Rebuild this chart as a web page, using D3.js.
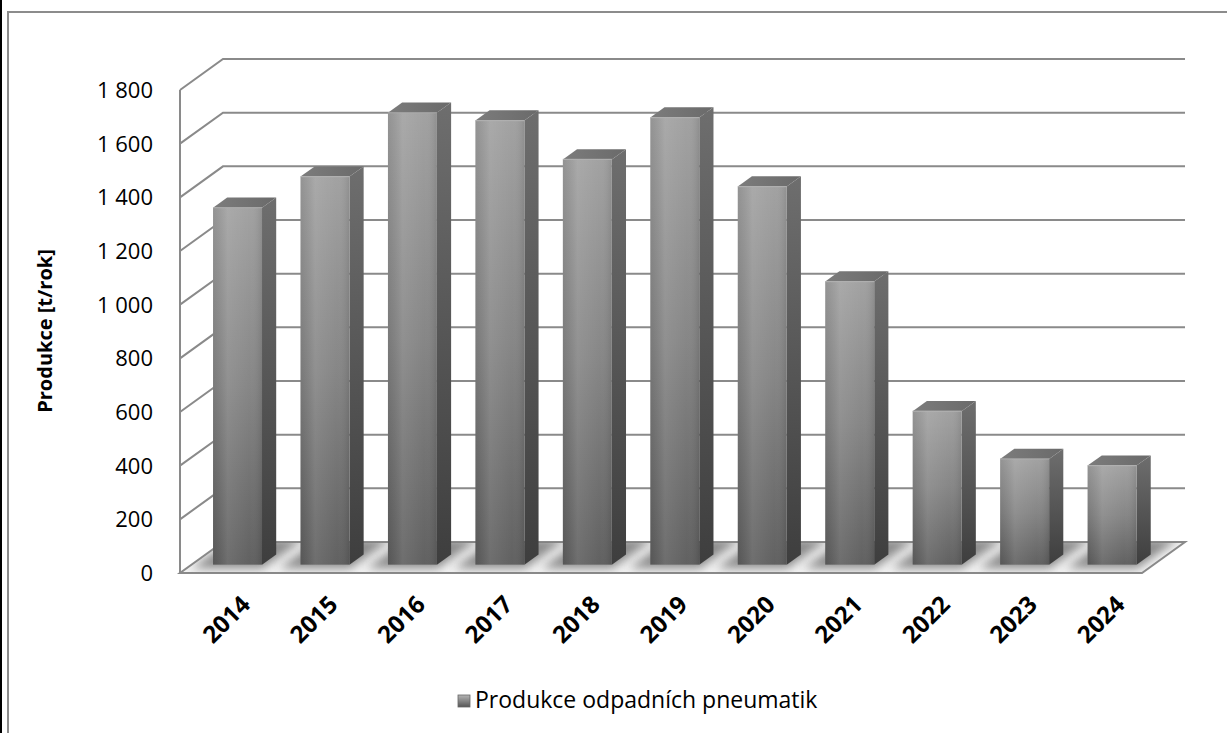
<!DOCTYPE html>
<html>
<head>
<meta charset="utf-8">
<script src="https://cdn.jsdelivr.net/npm/d3@7"></script>
<style>
  html, body { margin: 0; padding: 0; background: #fff; }
  svg { display: block; font-family: "Open Sans", "Noto Sans", sans-serif; }
</style>
</head>
<body>
<svg id="chart" width="1227" height="733"></svg>
<script>
const categories = ["2014", "2015", "2016", "2017", "2018", "2019", "2020", "2021", "2022", "2023", "2024"];
const values = [1330, 1446, 1684, 1655, 1510, 1666, 1409, 1055, 572, 394, 369];
const yTicks = [0, 200, 400, 600, 800, 1000, 1200, 1400, 1600, 1800];
const seriesName = "Produkce odpadních pneumatik";
const yTitle = "Produkce [t/rok]";

const svg = d3.select("#chart");
const W = 1227, H = 733;

// outer frame
svg.append("rect").attr("x", 0).attr("y", 0).attr("width", 2).attr("height", H).attr("fill", "#000");
svg.append("rect").attr("x", 8).attr("y", 12).attr("width", 1400).attr("height", 1000)
  .attr("fill", "none").attr("stroke", "#8c8c8c").attr("stroke-width", 2);

const x = d3.scaleBand().domain(categories).range([180, 1142]).padding(0);
const y = d3.scaleLinear().domain([0, 1800]).range([573, 90]);

const DX = 43, DY = -31;
const P = (px, py, d) => [px + DX * d, py + DY * d];
const D0 = 0.27, D1 = 0.6;

const defs = svg.append("defs");
function lin(id, x1, y1, x2, y2, stops) {
  const g = defs.append("linearGradient").attr("id", id)
    .attr("x1", x1).attr("y1", y1).attr("x2", x2).attr("y2", y2);
  stops.forEach(s => g.append("stop").attr("offset", s[0]).attr("stop-color", s[1]));
}
lin("gFront", 0, 0, 0, 1, [[0, "#a0a0a0"], [0.5, "#848484"], [1, "#5e5e5e"]]);
lin("gFrontH", 0, 0, 1, 0, [[0, "rgba(0,0,0,0.08)"], [0.3, "rgba(255,255,255,0.10)"], [0.75, "rgba(255,255,255,0.02)"], [1, "rgba(0,0,0,0.10)"]]);
lin("gSide", 0, 0, 0, 1, [[0, "#6e6e6e"], [1, "#3e3e3e"]]);
lin("gTop", 0, 0, 1, 0, [[0, "#7c7c7c"], [1, "#6a6a6a"]]);
lin("gLegend", 0, 0, 0, 1, [[0, "#b5b5b5"], [1, "#555"]]);
defs.append("filter").attr("id", "blur").attr("x", "-50%").attr("y", "-50%").attr("width", "200%").attr("height", "200%")
  .append("feGaussianBlur").attr("stdDeviation", 5);

const line = d3.line();
const g = svg.append("g");

// back wall gridlines
yTicks.forEach(t => {
  const a = P(180, y(t), 0), b = P(180, y(t), 1), c = P(1142, y(t), 1);
  if (t !== 0) {
    g.append("path").attr("d", line([a, b, c])).attr("fill", "none")
      .attr("stroke", "#8a8a8a").attr("stroke-width", 2);
  }
});
// front axis line
g.append("line").attr("x1", 180).attr("x2", 180).attr("y1", y(0)).attr("y2", y(1800))
  .attr("stroke", "#8a8a8a").attr("stroke-width", 2);

// floor
const floorPts = [P(180, y(0), 0), P(1142, y(0), 0), P(1142, y(0), 1), P(180, y(0), 1)];
g.append("path").attr("d", line(floorPts) + "Z").attr("fill", "#f2f2f2")
  .attr("stroke", "#8a8a8a").attr("stroke-width", 2);

// shadows
const clip = defs.append("clipPath").attr("id", "floorClip");
clip.append("path").attr("d", line(floorPts) + "Z");
const sh = g.append("g").attr("clip-path", "url(#floorClip)");
const bw = x.step() * 0.56, boff = x.step() * 0.245;
categories.forEach((c, i) => {
  const bx = x(c) + boff;
  const pts = [P(bx - 16, y(0), 0.15), P(bx + bw + 6, y(0), 0.15), P(bx + bw + 6, y(0), 1.1), P(bx - 16, y(0), 1.1)];
  sh.append("path").attr("d", line(pts) + "Z").attr("fill", "#808080").attr("opacity", 0.9).attr("filter", "url(#blur)");
});

// bars
const bars = g.append("g");
categories.forEach((c, i) => {
  const v = values[i];
  const bx = x(c) + boff;
  const y0 = y(0), y1 = y(v);
  const fTL = P(bx, y1, D0), fTR = P(bx + bw, y1, D0), fBR = P(bx + bw, y0, D0), fBL = P(bx, y0, D0);
  const bTL = P(bx, y1, D1), bTR = P(bx + bw, y1, D1), bBR = P(bx + bw, y0, D1);
  bars.append("path").attr("d", line([fTR, bTR, bBR, fBR]) + "Z").attr("fill", "url(#gSide)");
  bars.append("path").attr("d", line([fTL, fTR, bTR, bTL]) + "Z").attr("fill", "url(#gTop)");
  bars.append("rect").attr("x", fTL[0]).attr("y", fTL[1]).attr("width", bw).attr("height", fBL[1] - fTL[1])
    .attr("fill", "url(#gFront)");
  bars.append("rect").attr("x", fTL[0]).attr("y", fTL[1]).attr("width", bw).attr("height", fBL[1] - fTL[1])
    .attr("fill", "url(#gFrontH)");
  bars.append("path").attr("d", line([fTL, fTR])).attr("stroke", "#b0b0b0").attr("stroke-width", 1.2).attr("opacity", 0.8);
});

// y tick labels
const fmt = d3.formatLocale({ decimal: ",", thousands: "\u00a0", grouping: [3], currency: ["", ""] }).format(",d");
const yAxis = svg.append("g");
yTicks.forEach(t => {
  yAxis.append("text").attr("x", 153).attr("y", y(t)).attr("dy", "0.36em")
    .attr("text-anchor", "end").attr("font-size", 22).attr("fill", "#000").text(fmt(t));
});

// y title
svg.append("text").attr("transform", "translate(52,331) rotate(-90)")
  .attr("text-anchor", "middle").attr("font-size", 20).attr("font-weight", "bold").attr("fill", "#000").text(yTitle);

// x labels
categories.forEach(c => {
  const cx = x(c) + x.step() / 2;
  svg.append("text").attr("transform", `translate(${cx + 28},${606}) rotate(-45)`)
    .attr("text-anchor", "end").attr("font-size", 24).attr("font-weight", "bold").attr("fill", "#000").text(c);
});

// legend
const lg = svg.append("g");
lg.append("rect").attr("x", 458).attr("y", 695).attr("width", 12).attr("height", 12)
  .attr("fill", "url(#gLegend)").attr("stroke", "#666").attr("stroke-width", 0.8);
lg.append("text").attr("x", 475).attr("y", 708).attr("font-size", 23).attr("fill", "#000").text(seriesName);
</script>
</body>
</html>
